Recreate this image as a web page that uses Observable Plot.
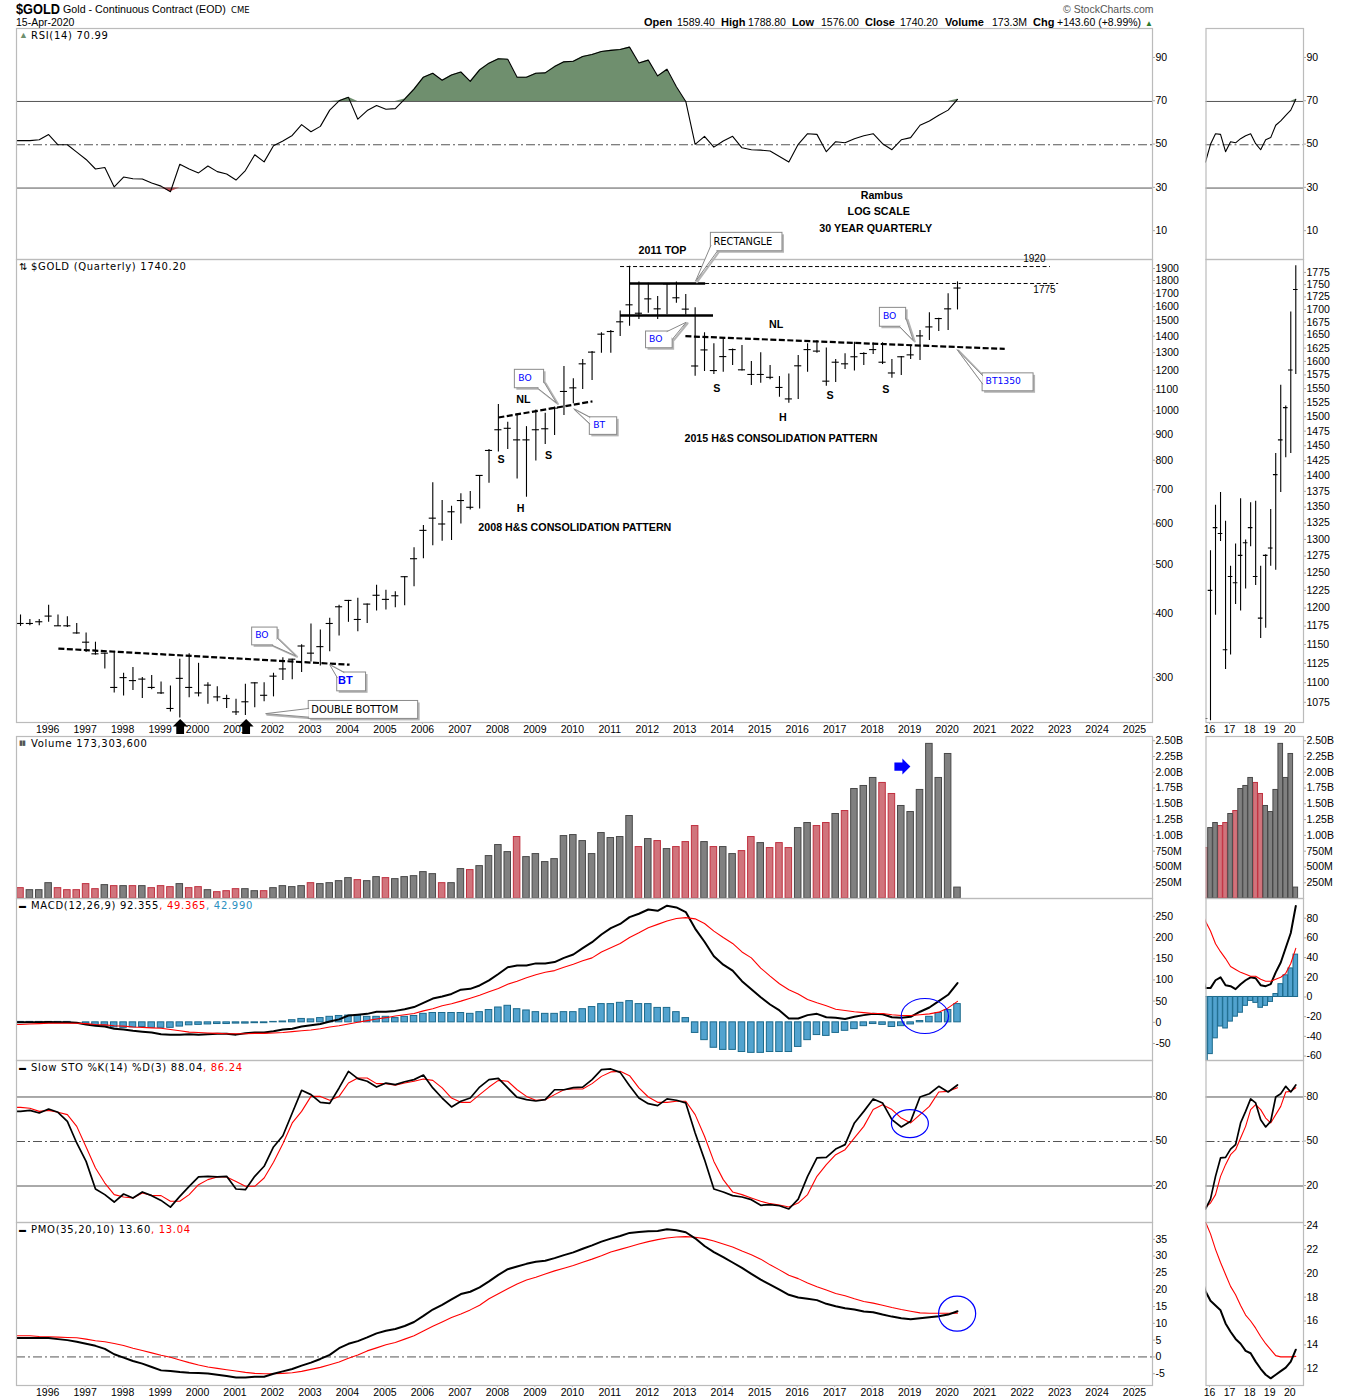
<!DOCTYPE html>
<html><head><meta charset="utf-8">
<script src="https://cdn.jsdelivr.net/npm/d3@7"></script>
<script src="https://cdn.jsdelivr.net/npm/@observablehq/plot@0.6"></script>
<style>
html,body{margin:0;padding:0;background:#fff;}
#page{position:relative;width:1350px;height:1400px;overflow:hidden;background:#fff;font-family:"Liberation Sans",Arial,sans-serif;color:#000;}
#page svg{position:absolute;max-width:none;}
.lab{position:absolute;white-space:nowrap;transform:translateY(-50%);z-index:5;}
.leg{font-family:"DejaVu Sans",sans-serif;font-size:10px;letter-spacing:.7px;}
</style></head><body><div id="page"></div>
<script>
// ---------- categories ----------
const quarters = d3.range(101).map(i => 1995.25 + i * 0.25);
const yearTicks = d3.range(1996, 2026);
const zoomYearTicks = [2016, 2017, 2018, 2019, 2020];

// ---------- price ----------
const high = [398,390,390,416,398,395,383,367,352,335,
338,306,314,300,303,294,289,326,334,320,
293,288,277,272,291,293,293,306,328,326,
348,382,372,392,416,425,429,418,455,445,
442,473,539,596,723,667,650,688,695,747,
840,1029,950,987,931,1004,989,1017,1221,1155,
1260,1306,1422,1436,1568,1920,1787,1778,1675,1773,
1787,1690,1591,1422,1353,1390,1322,1343,1249,1299,
1227,1167,1181,1283,1353,1373,1328,1260,1293,1363,
1299,1357,1359,1260,1277,1346,1437,1556,1519,1695,1789];
const low = [378,379,379,385,378,376,365,336,332,312,
280,276,283,273,284,278,257,250,274,275,
266,269,261,253,253,262,269,275,296,297,
307,322,316,337,362,385,369,383,405,407,
411,415,452,513,544,555,557,600,639,642,
721,830,840,735,677,797,859,894,979,1032,
1101,1146,1297,1297,1398,1465,1509,1553,1509,1542,
1625,1540,1169,1194,1178,1190,1227,1196,1121,1132,
1150,1063,1035,1052,1190,1297,1117,1136,1205,1196,
1227,1289,1232,1158,1172,1260,1254,1373,1430,1437,1576];
const close = [383,383,386,396,379,379,367,352,334,335,
287,300,296,298,287,280,261,299,287,280,
290,275,273,257,269,293,277,302,312,326,
346,335,345,383,413,425,390,418,435,427,
434,473,513,583,616,600,634,667,647,747,
836,918,924,877,877,918,922,1012,1091,1109,
1236,1303,1413,1430,1494,1613,1553,1657,1584,1773,
1665,1582,1224,1316,1199,1277,1318,1203,1178,1178,
1163,1111,1055,1225,1318,1309,1143,1245,1236,1276,
1295,1318,1245,1186,1276,1287,1402,1460,1516,1584,1740];
const priceTicks = [1900,1800,1700,1600,1500,1400,1300,1200,1100,1000,900,800,700,600,500,400,300];
const zoomPriceTicks = d3.range(1075, 1776, 25);

// ---------- RSI ----------
const rsi = [51.9,51.9,52.3,54.7,50,50,46.6,43.2,38.8,39.5,
30.5,35.1,34.3,34.2,32.3,30.9,28.3,41,38.8,37,
40.2,37.6,36.5,33.7,38.1,45.4,42.1,49.5,51.7,54.3,
59.3,56,58.5,66,70.3,71.9,61.8,65.8,68.1,66.4,
66.7,71.1,75.7,81.2,83,79.8,82.2,83.6,79.3,84.6,
87.7,89.7,89.5,81.2,81.2,83,83.2,86.1,88.3,88.6,
90.8,91.7,93.1,93.6,94,95.1,87.8,89.1,81.8,84.9,
76.8,70,50.2,53.9,48.9,51.7,53.9,48.6,47.7,47.5,
47.1,44.6,42,50.2,55.1,54.8,46.8,51.4,50.9,52.8,
54.2,55.1,50.5,47.7,52.3,53.3,59,61,63.6,66,71];
const rsiTicks = [90,70,50,30,10];

// ---------- volume (billions) ----------
const volume = [.164,.132,.132,.243,.164,.132,.132,.228,.148,.212,
.196,.196,.196,.196,.164,.196,.18,.228,.164,.18,
.132,.1,.116,.148,.148,.116,.116,.164,.196,.18,
.196,.243,.228,.243,.275,.323,.291,.275,.339,.323,
.307,.339,.354,.418,.386,.243,.243,.466,.45,.513,
.672,.847,.735,.974,.656,.704,.577,.624,.989,1.005,
.91,.704,1.037,.958,.974,1.307,.815,.942,.91,.783,
.815,.894,1.148,.894,.815,.815,.704,.751,.974,.878,
.799,.878,.799,1.116,1.196,1.148,1.196,1.339,1.386,1.735,
1.783,1.91,1.831,1.656,1.466,1.37,1.72,2.45,1.91,2.29,.173];
const volumeDown = ["RGGGRRRRRG","RGRGRRRGRR","GRRRGGRGGG","GRGGGGRGGR","GGGGGRGGRG",
"GGGRGGGGGG","GGGGGGRGRG","RRRGRGGRRG","RRRGGRRGRG","GGRRGGGGGGG"].join("");
const volumeTicks = [.25,.5,.75,1,1.25,1.5,1.75,2,2.25,2.5];

// ---------- MACD ----------
const macd = [0,0,0,1,0,0,-1,-5,-8,-10,
-15,-17,-20,-22,-24,-28,-29,-29,-28,-29,
-28,-27,-27,-29,-26,-24,-24,-21,-17,-15,
-10,-7,-4,2,7,16,18,20,25,25,
27,31,36,46,56,61,67,77,79,87,
99,114,130,134,134,139,139,142,152,160,
175,189,207,222,232,248,256,266,263,275,
271,260,221,190,156,136,122,97,78,59,
42,28,9,9,17,20,12,11,8,13,
17,20,19,12,11,13,25,35,50,65,92.4];
const macdSignal = [-5,-4,-3,-2,-2,-2,-2,-3,-5,-6,
-8,-9,-11,-12,-13,-14,-17,-20,-23,-24,
-25,-26,-27,-27,-27,-26,-26,-25,-24,-22,
-20,-18,-15,-11,-8,-4,0,4,8,11,
15,18,21,27,32,39,44,50,57,64,
72,80,90,97,105,112,118,122,130,137,
145,152,166,176,186,200,211,223,231,239,
245,247,244,233,215,200,186,166,152,128,
109,91,77,67,54,46,39,31,28,25,
23,21,21,18,16,16,18,20,24,34,49.4];
const macdHist = [1,1,1,1,1,1,0,-3,-7,-8,
-12,-13,-12,-11,-13,-13,-13,-10,-7,-6,
-5,-4,-4,-3,-3,-2,-2,1,2,5,
8,7,10,13,15,16,16,13,13,13,
10,13,15,20,22,22,22,22,20,24,
29,35,39,31,28,24,20,20,24,24,
31,36,43,43,46,50,43,43,34,34,
24,10,-25,-42,-60,-65,-65,-70,-72,-72,
-70,-70,-70,-58,-42,-30,-32,-25,-20,-16,
-9,-4,-6,-11,-9,-5,3,13,22,29,43];
const macdTicks = [250,200,150,100,50,0,-50];
const zoomMacdTicks = [80,60,40,20,0,-20,-40,-60];

// ---------- Slow stochastic ----------
const stoK = [70.3,71,69.2,71.9,69.7,63.6,49,36.6,18,14.2,
9.2,14.6,11.9,16,13.5,10.3,5.8,13,19.8,26.1,
26.5,26.1,26.5,18,17.5,26.5,33.3,46.3,53.9,69.2,
84.5,81.6,76.4,75.7,86.1,97.3,92.4,90.6,86.7,89.4,
88.3,90.3,91.7,94.8,86.1,79.3,73.3,77.1,79.3,86.7,
91.7,92.6,86.1,79.8,78.2,77.3,78.2,84.9,84.9,86.3,
86.7,91.7,98.4,98.9,96.6,87.6,79.3,75.5,74.2,78.7,
77.8,76,55.7,37.8,18,16,13.5,12.6,10.8,7,
7.4,6.7,4.5,11.2,26.5,38.9,39.3,44.9,47.9,62.5,
70.3,78.7,76,64.7,59.8,63.6,80,82.2,87.2,83.4,88.1];
const stoD = [73,72.4,70.3,71,69.7,68.1,60.2,46.3,32.1,22,
14.2,12.6,11.9,15.3,13.7,13.5,9.7,9.7,14.2,20.9,
24.3,26.1,26.1,23.1,19.8,19.8,25.4,36,48.5,62.5,
70.3,80.4,80.4,77.8,80.4,89.4,92.8,92.8,89,89,
87.9,89.4,90.6,92.1,91.2,86.1,79.3,76.4,76.4,81.6,
86.7,91.2,90.6,84.9,80.4,77.8,78.2,81.6,84.9,85.4,
85.4,89,93.9,96.9,97.3,94.4,86.1,80,76.4,76.4,
77.1,77.1,68.1,53.5,36.6,24.3,16,14.2,11.9,9.7,
8.1,7.2,5.8,8.5,14.2,26.5,34.4,41.1,44.5,52.4,
60.2,71.5,74.8,71.5,65.8,62.5,68.1,73.7,83.4,83.8,86.2];
const stoTicks = [80,50,20];

// ---------- PMO ----------
const pmo = [5.6,5.6,5.6,5.6,5.3,5,4.5,3.9,3.3,2.4,
.8,-.2,-1.2,-2,-3,-4,-4.2,-4.5,-4.7,-4.8,
-4.9,-5.3,-5.7,-6.1,-6.1,-5.9,-5.9,-5,-4.3,-3.6,
-2.6,-1.7,-.6,.6,2.6,3.9,4.7,5.8,7,7.8,
8.3,9.2,10.4,12.2,14.1,15.5,17.1,18.7,19.4,20.7,
22.5,24.4,26.1,26.9,27.7,28.3,28.6,29.4,30.3,31.1,
32.2,33.2,34.3,35.2,36,36.9,37.2,37.4,37.5,38,
37.7,37.1,35.3,33,31.2,29.7,28.1,26.5,24.7,23,
21.5,20,18.5,17.7,17.3,16.9,15.8,15.1,14.5,14.1,
13.5,13.3,12.6,12,11.5,11.2,11.5,11.8,12.1,12.6,13.6];
const pmoSignal = [6.3,6.3,6.1,6,5.9,5.8,5.7,5.3,4.8,4.5,
4,3.4,2.6,1.9,1.2,.5,-.1,-.9,-1.7,-2.4,
-3,-3.4,-3.8,-4.2,-4.6,-4.9,-5,-5,-4.9,-4.7,
-4.3,-3.7,-3.1,-2.3,-1.5,-.4,.6,1.8,2.7,3.6,
4.3,5.3,6.3,7.7,9.1,10.4,11.7,12.8,14,15.4,
17.3,18.8,20.3,21.7,22.9,23.7,24.7,25.6,26.4,27.2,
28.2,29.1,30.1,31.2,32,32.8,33.6,34.3,34.9,35.4,
35.7,35.8,35.6,35.2,34.5,33.6,32.7,31.5,30.4,29.1,
27.4,25.9,24.3,23.3,22,20.9,19.9,18.9,18.2,17.3,
16.5,16,15.4,14.7,14.1,13.6,13.1,13,13,13,13.04];
const pmoTicks = [35,30,25,20,15,10,5,0,-5];
const zoomPmoTicks = [24,22,20,18,16,14,12];

// ---------- chart annotations (year, price) ----------
const trendlines = [
  {x1:1996.26,y1:342,x2:2004.03,y2:318},
  {x1:2008.0,y1:970,x2:2010.51,y2:1043},
  {x1:2012.99,y1:1400,x2:2021.51,y2:1322}];
const rectangleLines = [
  {x1:2011.5,x2:2013.53,y:1776},
  {x1:2011.26,x2:2013.74,y:1537}];
const levelLines = [
  {x1:2011.26,x2:2022.73,y:1917},
  {x1:2013.53,x2:2022.95,y:1776}];
const boldLabels = [
  {t:"S",x:2008.07,y:802},{t:"H",x:2008.59,y:643},{t:"S",x:2009.34,y:817},{t:"NL",x:2008.67,y:1052},
  {t:"2008 H&S CONSOLIDATION PATTERN",x:2010.04,y:590},{t:"2011 TOP",x:2012.38,y:2061},
  {t:"NL",x:2015.41,y:1476},{t:"S",x:2013.83,y:1105},{t:"H",x:2015.59,y:970},{t:"S",x:2016.85,y:1069},{t:"S",x:2018.34,y:1098},
  {t:"2015 H&S CONSOLIDATION PATTERN",x:2015.54,y:882},
  {t:"Rambus",x:2018.23,y:2641},{t:"LOG SCALE",x:2018.15,y:2457},{t:"30 YEAR QUARTERLY",x:2018.07,y:2276}];
const levelLabels = [{t:"1920",x:2022.3,y:1983},{t:"1775",x:2022.57,y:1724}];
const callouts = [
  {t:"BO",c:"#0000ff",x1:2001.43,x2:2002.11,y1:376,y2:347,tx:2001.51,ty:363,tip:[2002.59,331],a:[2002.11,358],b:[2001.97,347]},
  {t:"BT",c:"#0000ff",w:"bold",x1:2003.70,x2:2004.47,y1:307,y2:282,tx:2003.72,ty:296,tip:[2003.50,318],a:[2003.70,300],b:[2003.88,307]},
  {t:"DOUBLE BOTTOM",c:"#000",x1:2002.94,x2:2005.86,y1:270,y2:249,tx:2003.01,ty:260,tip:[2001.79,255],a:[2002.94,261],b:[2002.94,251]},
  {t:"BO",c:"#0000ff",x1:2008.44,x2:2009.22,y1:1203,y2:1107,tx:2008.53,ty:1158,tip:[2009.55,1036],a:[2009.22,1137],b:[2009.05,1107]},
  {t:"BT",c:"#0000ff",x1:2010.44,x2:2011.17,y1:971,y2:897,tx:2010.53,ty:937,tip:[2010.01,1009],a:[2010.44,971],b:[2010.44,943]},
  {t:"BO",c:"#0000ff",x1:2011.94,x2:2012.65,y1:1430,y2:1326,tx:2012.02,ty:1381,tip:[2013.01,1491],a:[2012.5,1430],b:[2012.65,1383]},
  {t:"RECTANGLE",c:"#000",x1:2013.67,x2:2015.58,y1:2232,y2:2054,tx:2013.74,ty:2146,tip:[2013.26,1794],a:[2013.67,2108],b:[2013.84,2054]},
  {t:"BO",c:"#0000ff",x1:2018.18,x2:2018.88,y1:1591,y2:1461,tx:2018.26,ty:1532,tip:[2019.07,1373],a:[2018.88,1514],b:[2018.71,1461]},
  {t:"BT1350",c:"#0000ff",x1:2020.92,x2:2022.28,y1:1184,y2:1092,tx:2021.0,ty:1142,tip:[2020.24,1318],a:[2020.92,1172],b:[2020.92,1129]}];
const bottomArrows = [{x:1999.51,y:240.5},{x:2001.27,y:240.5}];
const volumeArrow = [{x:2018.78,y:2.09}];
const macdCircle = [{x:2019.38,y:14.9}];
const stoCircle = [{x:2018.98,y:62.1}];
const pmoCircle = [{x:2020.24,y:12.9}];

// ---------- helpers ----------
const page = document.getElementById("page");
const FONT = '"Liberation Sans",Arial,sans-serif';
const LEFT_X = [1995.143, 2025.453], RIGHT_X = [2015.776, 2020.634];
const BLACK = "#000", RED = "#ff0000", GRID = "#555";
const bars = quarters.map((q,i)=>({q,h:high[i],l:low[i],c:close[i]}));
const series = vals => [{q:LEFT_X[0],v:vals[0]}, ...quarters.map((q,i)=>({q,v:vals[i]}))];
const arrowSymbol = {draw(c,size){const r=Math.sqrt(size/Math.PI);
  c.moveTo(0,-r);c.lineTo(r,0);c.lineTo(r*.52,0);c.lineTo(r*.52,r);c.lineTo(-r*.52,r);c.lineTo(-r*.52,0);c.lineTo(-r,0);c.closePath();}};
const ellipse = k => ({draw(c,size){const r=Math.sqrt(size/Math.PI),a=r*k,K=.5523;
  c.moveTo(a,0);c.bezierCurveTo(a,K*r,K*a,r,0,r);c.bezierCurveTo(-K*a,r,-a,K*r,-a,0);
  c.bezierCurveTo(-a,-K*r,-K*a,-r,0,-r);c.bezierCurveTo(K*a,-r,a,-K*r,a,0);c.closePath();}});
const ring = (data,r,k) => Plot.dot(data,{x:"x",y:"y",r,symbol:ellipse(k),fill:"none",stroke:"#0000ff",strokeWidth:1.2});

function panel({side,top,bottom,extraTop=0,extraBottom=0,y,marks}){
  const right = side==="right";
  const svg = Plot.plot({
    width: right?145:1350,
    height: bottom-top+extraTop+extraBottom,
    marginTop: extraTop, marginBottom: extraBottom,
    marginLeft: right?0.5:16, marginRight: right?47:198,
    x:{domain:right?RIGHT_X:LEFT_X},
    y,
    style:{background:"transparent",overflow:"visible",fontFamily:FONT,fontSize:"10.5px"},
    marks
  });
  svg.style.left=(right?1205:0)+"px";
  svg.style.top=(top-extraTop)+"px";
  page.appendChild(svg);
}
const yAxis = (ticks,fmt=String,dy=0) => Plot.axisY({anchor:"right",ticks,tickFormat:fmt,tickSize:2,tickPadding:1,label:null,stroke:"#aaa",fill:"#000",dy});
const xAxis = (ticks,fmt) => Plot.axisX({ticks,tickFormat:fmt,tickSize:2,tickPadding:1,label:null,stroke:"#aaa",fill:"#000",dx:-1});
const noX = () => Plot.axisX({ticks:[],label:null});
const frame = () => Plot.frame({stroke:"#bbb",strokeWidth:1.2});
const refLines = (solid,dashed) => [
  Plot.ruleY(solid,{stroke:GRID,strokeWidth:1}),
  Plot.ruleY(dashed,{stroke:GRID,strokeWidth:1,strokeDasharray:"9,3,2,3"})];
const volFmt = v => v>=1 ? v.toFixed(2)+"B" : (v*1000)+"M";

// ---------- panels ----------
for (const side of ["left","right"]) {
  const R = side==="right";
  const halfBar = R?0.115:0.087, halfTick = R?0.115:0.095;
  const xTicks = R?zoomYearTicks:yearTicks;
  const xFmt = R?(d=>String(d).slice(2)):(d=>String(d));

  // RSI
  panel({side,top:28,bottom:259,y:{domain:[-3,103.7]},marks:[
    noX(),
    Plot.areaY(series(rsi),{x:"q",y1:70,y2:d=>Math.max(d.v,70),fill:"#6f8f6e",clip:true}),
    Plot.areaY(series(rsi),{x:"q",y1:30,y2:d=>Math.min(d.v,30),fill:"#d9505a",clip:true}),
    ...refLines([70,30],[50]),
    Plot.line(series(rsi),{x:"q",y:"v",stroke:BLACK,strokeWidth:1.1,clip:true}),
    frame(), yAxis(rsiTicks,String,-0.7)
  ]});

  // Price
  const priceMarks = [
    xAxis(xTicks,xFmt),
    Plot.ruleX(bars.filter(d=>!R||d.q>=2016),{x:"q",y1:"l",y2:"h",stroke:BLACK,strokeWidth:1.1,clip:true}),
    Plot.ruleY(bars,{y:"c",x1:d=>d.q-halfTick,x2:d=>d.q+halfTick,stroke:BLACK,strokeWidth:1.1,clip:true}),
    frame(), yAxis(R?zoomPriceTicks:priceTicks)
  ];
  if (!R) {
    const pts = callouts.flatMap((c,k)=>[c.a,c.tip,c.b].map(p=>({k,x:p[0],y:p[1]})));
    priceMarks.push(
      Plot.ruleY(levelLines,{y:"y",x1:"x1",x2:"x2",stroke:BLACK,strokeWidth:1,strokeDasharray:"4,2.5"}),
      Plot.ruleY(rectangleLines,{y:"y",x1:"x1",x2:"x2",stroke:BLACK,strokeWidth:2.6}),
      Plot.link(trendlines,{x1:"x1",y1:"y1",x2:"x2",y2:"y2",stroke:BLACK,strokeWidth:2.2,strokeDasharray:"6,2.5"}),
      Plot.rect(callouts,{x1:"x1",x2:"x2",y1:"y1",y2:"y2",fill:"#b5b5b5",dx:2,dy:2}),
      Plot.line(pts,{x:"x",y:"y",z:"k",stroke:"#b5b5b5",strokeWidth:2,dx:1.5,dy:1}),
      Plot.rect(callouts,{x1:"x1",x2:"x2",y1:"y1",y2:"y2",fill:"#fff",stroke:"#8a8a8a",strokeWidth:1}),
      Plot.line(pts,{x:"x",y:"y",z:"k",fill:"#fff",stroke:"#8a8a8a",strokeWidth:1}),
      Plot.text(callouts.filter(c=>!c.w&&c.c!=="#000"),{x:"tx",y:"ty",text:"t",fill:"c",textAnchor:"start",fontFamily:"DejaVu Sans",fontSize:9.2}),
      Plot.text(callouts.filter(c=>c.c==="#000"),{x:"tx",y:"ty",text:"t",fill:"c",textAnchor:"start",fontFamily:"DejaVu Sans",fontSize:9.9}),
      Plot.text(callouts.filter(c=>c.w),{x:"tx",y:"ty",text:"t",fill:"c",textAnchor:"start",fontFamily:FONT,fontWeight:"bold",fontSize:11}),
      Plot.text(boldLabels,{x:"x",y:"y",text:"t",fill:"#000",fontFamily:FONT,fontWeight:"bold",fontSize:10.7}),
      Plot.text(levelLabels,{x:"x",y:"y",text:"t",fill:"#000",fontFamily:FONT,fontSize:10}),
      Plot.dot(bottomArrows,{x:"x",y:"y",r:7.5,symbol:arrowSymbol,fill:"#000",stroke:"none"})
    );
  }
  panel({side,top:259,bottom:722,extraTop:R?0:80,extraBottom:13,
    y:{type:"log",domain:R?[1050,1802]:[245,1979]},marks:priceMarks});

  // Volume
  const volRows = quarters.map((q,i)=>({q,v:volume[i],d:volumeDown[i]==="R"}));
  const volMarks = [
    noX(),
    Plot.rectY(volRows.filter(d=>d.d),{x1:d=>d.q-halfBar,x2:d=>d.q+halfBar,y1:0,y2:"v",fill:"#d0747c",stroke:"#c0303f",strokeWidth:1,clip:true}),
    Plot.rectY(volRows.filter(d=>!d.d),{x1:d=>d.q-halfBar,x2:d=>d.q+halfBar,y1:0,y2:"v",fill:"#808080",stroke:"#484848",strokeWidth:1,clip:true}),
    frame(), yAxis(volumeTicks,volFmt)
  ];
  if (!R) volMarks.push(Plot.dot(volumeArrow,{x:"x",y:"y",r:8,rotate:90,symbol:arrowSymbol,fill:"#0000ff",stroke:"none"}));
  panel({side,top:736,bottom:898,y:{domain:[0,2.567]},marks:volMarks});

  // MACD
  const histRows = quarters.map((q,i)=>({q,v:macdHist[i]}));
  const macdMarks = [
    noX(),
    Plot.rectY(histRows,{x1:d=>d.q-halfBar,x2:d=>d.q+halfBar,y1:0,y2:"v",fill:"#52a3cf",stroke:"#1c6a8c",strokeWidth:1,clip:true}),
    Plot.line(series(macd),{x:"q",y:"v",stroke:BLACK,strokeWidth:2,clip:true}),
    Plot.line(series(macdSignal),{x:"q",y:"v",stroke:RED,strokeWidth:1.1,clip:true}),
    frame(), yAxis(R?zoomMacdTicks:macdTicks)
  ];
  if (!R) macdMarks.push(ring(macdCircle,17.5,1.35));
  panel({side,top:898,bottom:1060,y:{domain:R?[-64.5,100]:[-90,292]},marks:macdMarks});

  // Slow STO
  const stoMarks = [
    noX(),
    ...refLines([80,20],[50]),
    Plot.line(series(stoD),{x:"q",y:"v",stroke:RED,strokeWidth:1.1,clip:true}),
    Plot.line(series(stoK),{x:"q",y:"v",stroke:BLACK,strokeWidth:1.7,clip:true}),
    frame(), yAxis(stoTicks,String,-0.5)
  ];
  if (!R) stoMarks.push(ring(stoCircle,14,1.32));
  panel({side,top:1060,bottom:1222,y:{domain:[-4.6,104.6]},marks:stoMarks});

  // PMO
  const pmoMarks = [
    xAxis(xTicks,xFmt),
    ...refLines([],[0]),
    Plot.line(series(pmoSignal),{x:"q",y:"v",stroke:RED,strokeWidth:1.1,clip:true}),
    Plot.line(series(pmo),{x:"q",y:"v",stroke:BLACK,strokeWidth:2,clip:true}),
    frame(), yAxis(R?zoomPmoTicks:pmoTicks)
  ];
  if (!R) pmoMarks.push(ring(pmoCircle,17.5,1.06));
  panel({side,top:1222,bottom:1385,extraBottom:14,y:{domain:R?[10.6,24.25]:[-8.5,40]},marks:pmoMarks});
}

// ---------- header and panel legends ----------
function label(x,y,html,css="",cls=""){
  const d=document.createElement("div");d.className="lab "+cls;d.style.cssText=`left:${x}px;top:${y}px;${css}`;d.innerHTML=html;page.appendChild(d);
}
label(16,9,"$GOLD","font-weight:bold;font-size:14.5px;transform:translateY(-50%) scaleX(.88);transform-origin:left center;");
label(63,9,"Gold - Continuous Contract (EOD)","font-size:10.7px;");
label(231,9.5,"CME","font-family:'DejaVu Sans';font-size:8.5px;");
label(16,22,"15-Apr-2020","font-size:10.5px;");
label(1063,9,"© StockCharts.com","font-size:10.5px;color:#555;");
const headerLabels = [["Open",644],["High",721],["Low",792],["Close",865],["Volume",945],["Chg",1033]];
const headerValues = [["1589.40",677],["1788.80",748],["1576.00",821],["1740.20",900],["173.3M",992],["+143.60 (+8.99%)",1057]];
headerLabels.forEach(([t,x])=>label(x,22,t,"font-weight:bold;font-size:11px;"));
headerValues.forEach(([t,x])=>label(x,22,t,"font-size:10.5px;"));
label(1145,22.5,"▲","font-size:8px;color:#2a7a2a;");

label(19,35,"▲","font-size:9px;color:#6f8f6e;");
label(31,35,"RSI(14) 70.99","","leg");
label(19,266,"⇅","font-size:10px;");
label(31,266,"$GOLD (Quarterly) 1740.20","","leg");
label(19,743,"▮▮","font-size:7px;color:#555;letter-spacing:-1px;");
label(31,743,"Volume 173,303,600","","leg");
label(19,904.5,"▬","font-size:7px;");
label(31,904.5,'MACD(12,26,9) 92.355<span style="color:#f00">, 49.365</span><span style="color:#2a8fc0">, 42.990</span>',"","leg");
label(19,1067,"▬","font-size:7px;");
label(31,1067,'Slow STO %K(14) %D(3) 88.04<span style="color:#f00">, 86.24</span>',"","leg");
label(19,1229,"▬","font-size:7px;");
label(31,1229,'PMO(35,20,10) 13.60<span style="color:#f00">, 13.04</span>',"","leg");
</script></body></html>
